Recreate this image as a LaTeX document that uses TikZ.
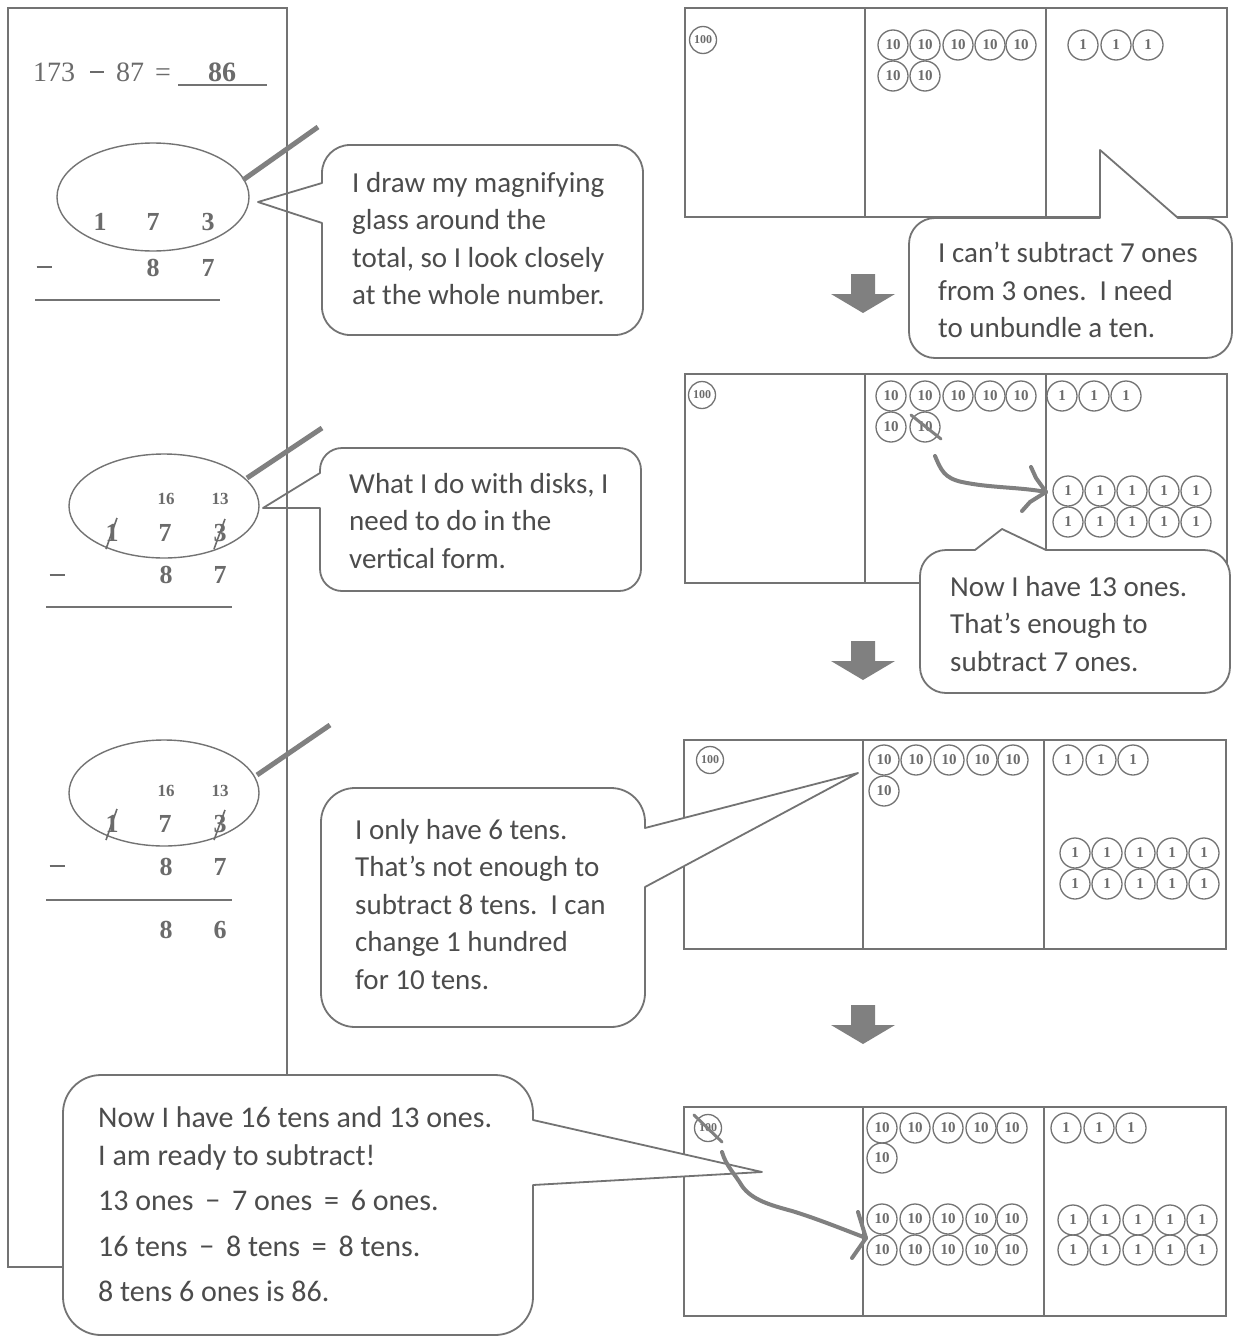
\documentclass[tikz,border=0pt]{standalone}
\usepackage{fontspec}
\setmainfont{Liberation Serif}
\newfontfamily\calfont{Carlito}
\definecolor{ink}{gray}{0.45}
\definecolor{txt}{gray}{0.30}
\definecolor{dig}{gray}{0.42}
\definecolor{scribc}{gray}{0.50}
\tikzset{
 panelline/.style={draw=ink, line width=1.4pt},
 bubble/.style={draw=ink, line width=1.8pt, fill=white, line join=round},
 btext/.style={anchor=north west, inner sep=0pt, align=left, text=txt, font=\calfont\fontsize{29}{37.5}\selectfont},
 digit/.style={text=dig, inner sep=0pt, font=\bfseries\fontsize{26}{26}\selectfont},
 smalldig/.style={text=dig, inner sep=0pt, font=\bfseries\fontsize{17}{17}\selectfont},
 minus/.style={inner sep=0pt, text=dig},
 lens/.style={draw=ink, line width=1.4pt},
 handle/.style={draw=scribc, line width=5pt},
 strike/.style={draw=dig, line width=1.6pt},
 rule/.style={draw=ink, line width=1.6pt},
 chart/.style={draw=ink, line width=1.6pt},
 disk/.style={circle, draw=ink, line width=1.3pt, minimum size=30pt, inner sep=0pt, text=dig, font=\bfseries\fontsize{15}{15}\selectfont},
 hdisk/.style={disk, minimum size=27pt, font=\bfseries\fontsize{12}{12}\selectfont},
 scrib/.style={draw=scribc, line width=4pt, line cap=round, line join=round},
 blockarrow/.style={fill=scribc},
}
\begin{document}
\begin{tikzpicture}[x=1pt,y=-1pt]
\useasboundingbox (0,0) rectangle (1233,1338);
\fill[white] (0,0) rectangle (1233,1338);

% ---- callouts 1 and 2 (left) ----
\draw[bubble] (322,223) -- (322,260) [rounded corners=28pt] -- (322,335) -- (643,335) -- (643,145) -- (322,145) [sharp corners] -- (322,183) -- (258,202) -- cycle;
\node[btext] (t1) at (352,172) {I draw my magnifying\\glass around the\\total, so I look closely\\at the whole number.};

\draw[bubble] (320,508) -- (320,545) [rounded corners=22pt] -- (320,591) -- (641,591) -- (641,448) -- (320,448) [sharp corners] -- (320,473) -- (263,508) -- cycle;
\node[btext] (t2) at (349,473) {What I do with disks, I\\need to do in the\\vertical form.};

% ---- left panel ----
\draw[panelline] (8,8) rectangle (287,1267);

% equation
\node[anchor=west, inner sep=0pt, text=dig, font=\fontsize{28}{28}\selectfont] (eq) at (33,72) {173\hspace{15pt}\rule[8pt]{14pt}{1.8pt}\hspace{12pt}87\hspace{11pt}=};
\node[inner sep=0pt, text=dig, font=\bfseries\fontsize{28}{28}\selectfont] (ans) at (222,72) {86};
\draw[rule] (178,85) -- (267,85);

% vertical form 1
\draw[lens] (153,197) ellipse [x radius=96, y radius=54];
\draw[handle] (243,180) -- (318,127);
\node[digit] (v1a) at (100,222) {1};
\node[digit] (v1b) at (153,222) {7};
\node[digit] (v1c) at (208,222) {3};
\node[minus] (v1m) at (44,267) {\rule{15pt}{2pt}};
\node[digit] (v1d) at (153,268) {8};
\node[digit] (v1e) at (208,268) {7};
\draw[rule] (35,300) -- (220,300);

% vertical form 2
\draw[lens] (164,506) ellipse [x radius=95, y radius=52];
\draw[handle] (247,478) -- (322,428);
\node[smalldig] (v2s1) at (166,499) {16};
\node[smalldig] (v2s2) at (220,499) {13};
\node[digit] (v2a) at (112,533) {1};
\node[digit] (v2b) at (165,533) {7};
\node[digit] (v2c) at (220,533) {3};
\draw[strike] (106,549) -- (117,518);
\draw[strike] (214,549) -- (225,519);
\node[minus] (v2m) at (57,575) {\rule{15pt}{2pt}};
\node[digit] (v2d) at (166,575) {8};
\node[digit] (v2e) at (220,575) {7};
\draw[rule] (46,607) -- (232,607);

% vertical form 3
\draw[lens] (164,793) ellipse [x radius=95, y radius=53];
\draw[handle] (257,775) -- (330,725);
\node[smalldig] (v3s1) at (166,791) {16};
\node[smalldig] (v3s2) at (220,791) {13};
\node[digit] (v3a) at (112,824) {1};
\node[digit] (v3b) at (165,824) {7};
\node[digit] (v3c) at (220,824) {3};
\draw[strike] (106,840) -- (117,809);
\draw[strike] (214,840) -- (225,810);
\node[minus] (v3m) at (57,866) {\rule{15pt}{2pt}};
\node[digit] (v3d) at (166,867) {8};
\node[digit] (v3e) at (220,867) {7};
\draw[rule] (46,900) -- (232,900);
\node[digit] (v3f) at (166,930) {8};
\node[digit] (v3g) at (220,930) {6};

% ---- charts ----
% chart 1
\draw[chart] (685,8) rectangle (1227,217);
\draw[chart] (865,8) -- (865,217);
\draw[chart] (1046,8) -- (1046,217);
\node[hdisk] (c1h) at (703,40) {100};
\foreach \i/\x in {1/893,2/925,3/958,4/990,5/1021} {\node[disk] (c1t\i) at (\x,45) {10};}
\foreach \i/\x in {6/893,7/925} {\node[disk] (c1t\i) at (\x,76) {10};}
\foreach \i/\x in {1/1083,2/1116,3/1148} {\node[disk] (c1o\i) at (\x,45) {1};}

% chart 2
\draw[chart] (685,374) rectangle (1227,583);
\draw[chart] (865,374) -- (865,583);
\draw[chart] (1046,374) -- (1046,583);
\node[hdisk] (c2h) at (702,395) {100};
\foreach \i/\x in {1/891,2/925,3/958,4/990,5/1021} {\node[disk] (c2t\i) at (\x,396) {10};}
\foreach \i/\x in {6/891,7/925} {\node[disk] (c2t\i) at (\x,427) {10};}
\foreach \i/\x in {1/1062,2/1094,3/1126} {\node[disk] (c2o\i) at (\x,396) {1};}
\foreach \i/\x in {4/1068,5/1100,6/1132,7/1164,8/1196} {\node[disk] (c2o\i) at (\x,491) {1};}
\foreach \i/\x in {9/1068,10/1100,11/1132,12/1164,13/1196} {\node[disk] (c2o\i) at (\x,522) {1};}

% chart 3
\draw[chart] (684,740) rectangle (1226,949);
\draw[chart] (863,740) -- (863,949);
\draw[chart] (1044,740) -- (1044,949);
\node[hdisk] (c3h) at (710,760) {100};
\foreach \i/\x in {1/884,2/916,3/949,4/982,5/1013} {\node[disk] (c3t\i) at (\x,760) {10};}
\node[disk] (c3t6) at (884,791) {10};
\foreach \i/\x in {1/1068,2/1101,3/1133} {\node[disk] (c3o\i) at (\x,760) {1};}
\foreach \i/\x in {4/1075,5/1107,6/1140,7/1172,8/1204} {\node[disk] (c3o\i) at (\x,853) {1};}
\foreach \i/\x in {9/1075,10/1107,11/1140,12/1172,13/1204} {\node[disk] (c3o\i) at (\x,884) {1};}

% chart 4
\draw[chart] (684,1107) rectangle (1226,1316);
\draw[chart] (863,1107) -- (863,1316);
\draw[chart] (1044,1107) -- (1044,1316);
\node[hdisk] (c4h) at (708,1128) {100};
\foreach \i/\x in {1/882,2/915,3/948,4/981,5/1012} {\node[disk] (c4t\i) at (\x,1128) {10};}
\node[disk] (c4t6) at (882,1158) {10};
\foreach \i/\x in {7/882,8/915,9/948,10/981,11/1012} {\node[disk] (c4t\i) at (\x,1219) {10};}
\foreach \i/\x in {12/882,13/915,14/948,15/981,16/1012} {\node[disk] (c4t\i) at (\x,1250) {10};}
\foreach \i/\x in {1/1066,2/1099,3/1131} {\node[disk] (c4o\i) at (\x,1128) {1};}
\foreach \i/\x in {4/1073,5/1105,6/1138,7/1170,8/1202} {\node[disk] (c4o\i) at (\x,1220) {1};}
\foreach \i/\x in {9/1073,10/1105,11/1138,12/1170,13/1202} {\node[disk] (c4o\i) at (\x,1250) {1};}

% ---- callout 3 ----
\draw[bubble] (645,887) -- (645,930) [rounded corners=34pt] -- (645,1027) -- (321,1027) -- (321,788) -- (645,788) [sharp corners] -- (645,828) -- (858,773) -- cycle;
\node[btext] (t3) at (355,819) {I only have 6 tens.\\That’s not enough to\\subtract 8 tens.\ \ I can\\change 1 hundred\\for 10 tens.};

% ---- callout 4 ----
\draw[bubble] (1178,218) -- (1196,218) [rounded corners=26pt] -- (1232,218) -- (1232,358) -- (909,358) -- (909,218) [sharp corners] -- (1100,218) -- (1100,150) -- cycle;
\node[btext] (t4) at (938,242) {I can’t subtract 7 ones\\from 3 ones.\ \ I need\\to unbundle a ten.};

% ---- callout 5 ----
\draw[bubble] (1046,550) -- (1100,550) [rounded corners=26pt] -- (1230,550) -- (1230,693) -- (920,693) -- (920,550) [sharp corners] -- (975,550) -- (1002,529) -- cycle;
\node[btext] (t5) at (950,576) {Now I have 13 ones.\\That’s enough to\\subtract 7 ones.};

% ---- callout 6 ----
\draw[bubble] (533,1185) -- (533,1240) [rounded corners=38pt] -- (533,1335) -- (63,1335) -- (63,1075) -- (533,1075) [sharp corners] -- (533,1120) -- (762,1172) -- cycle;
\node[btext, font=\calfont\fontsize{30}{38}\selectfont] (t6) at (98,1106) {Now I have 16 tens and 13 ones.\\I am ready to subtract!\\[7pt]13 ones \,−\, 7 ones \,=\, 6 ones.\\[8pt]16 tens \,−\, 8 tens \,=\, 8 tens.\\[7pt]8 tens 6 ones is 86.};

% ---- block arrows ----
\foreach \n/\y in {1/274,2/641,3/1005} {
  \fill[blockarrow] (851,\y) -- (875,\y) -- (875,\y+20) -- (895,\y+20) -- (863,\y+39) -- (831,\y+20) -- (851,\y+20) -- cycle;
}

% ---- scribbles ----
\draw[scrib, line width=3pt] (911,415) -- (941,439);
\coordinate (sA) at (935,456);
\coordinate (eA) at (1046,492);
\draw[scrib] (sA) .. controls (941,470) and (944,478) .. (962,482) .. controls (990,488) and (1020,487) .. (eA);
\draw[scrib] (eA) -- (1036,478) -- (1031,467);
\draw[scrib] (eA) -- (1030,502) -- (1022,511);

\draw[scrib, line width=3pt] (694,1115) -- (722,1142);
\coordinate (sB) at (722,1152);
\coordinate (eB) at (866,1238);
\draw[scrib] (sB) .. controls (726,1166) and (735,1174) .. (742,1186) .. controls (752,1200) and (770,1205) .. (792,1211) .. controls (815,1218) and (840,1228) .. (eB);
\draw[scrib] (eB) -- (858,1212);
\draw[scrib] (eB) -- (852,1258);
\end{tikzpicture}
\end{document}
